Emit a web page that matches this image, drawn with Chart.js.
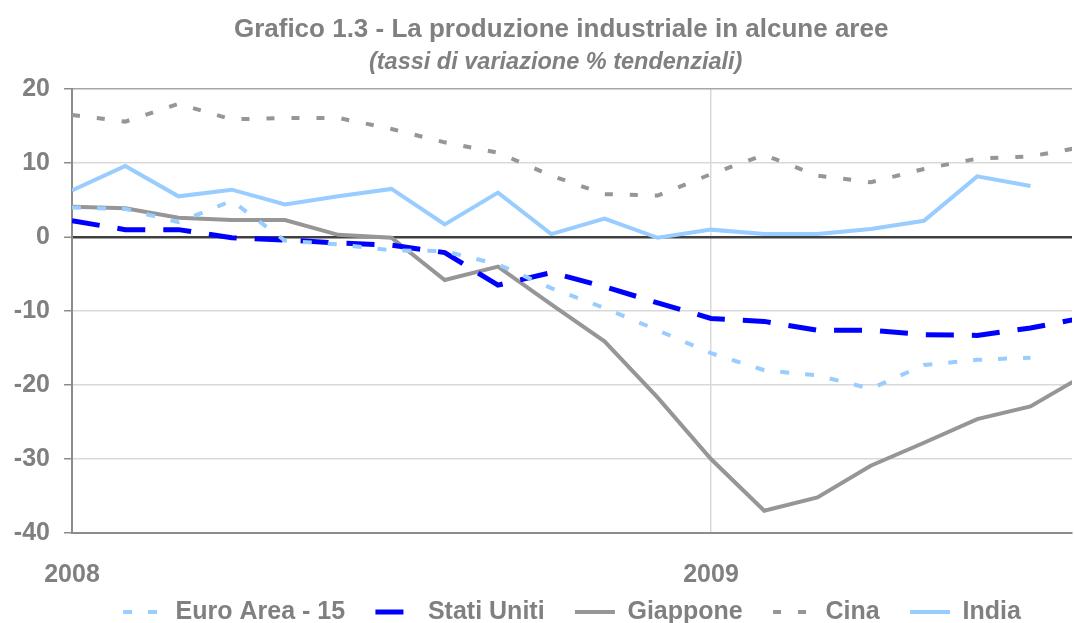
<!DOCTYPE html>
<html>
<head>
<meta charset="utf-8">
<script src="https://cdn.jsdelivr.net/npm/chart.js@4.4.1/dist/chart.umd.min.js"></script>
<style>
  html, body { margin: 0; padding: 0; background: #ffffff; }
  #wrap { width: 1074px; height: 623px; position: relative; }
</style>
</head>
<body>
<div id="wrap"><canvas id="chart"></canvas></div>
<script>
// month index from gen 2008 (0) to ago 2009 (19)
const months = [0, 1, 2, 3, 4, 5, 6, 7, 8, 9, 10, 11, 12, 13, 14, 15, 16, 17, 18, 19];
const year_ticks = [0, 12];
const year_labels = ["2008", "2009"];

const euro_area = [4.0, 3.8, 2.0, 4.9, -0.5, -1.0, -1.8, -1.9, -3.7, -6.9, -9.6, -12.6, -15.7, -18.0, -18.7, -20.5, -17.3, -16.6, -16.3, null];
const stati_uniti = [2.2, 1.0, 1.0, -0.1, -0.4, -0.8, -1.1, -2.1, -6.5, -4.8, -6.7, -8.9, -11.0, -11.4, -12.6, -12.6, -13.2, -13.3, -12.3, -10.9];
const giappone = [4.1, 3.9, 2.6, 2.3, 2.3, 0.3, -0.1, -5.8, -4.0, -9.1, -14.1, -21.7, -30.0, -37.0, -35.2, -30.9, -27.8, -24.6, -22.9, -18.7];
const cina = [16.5, 15.6, 18.0, 15.9, 16.1, 16.1, 14.6, 12.8, 11.4, 8.3, 5.8, 5.6, 8.5, 11.1, 8.3, 7.4, 9.2, 10.6, 10.9, 12.2];
const india = [6.3, 9.6, 5.5, 6.4, 4.4, 5.5, 6.5, 1.7, 6.0, 0.4, 2.5, -0.1, 1.0, 0.4, 0.4, 1.1, 2.2, 8.2, 6.9, null];

const font_family = 'Arial, "Liberation Sans", sans-serif';
const text_grey = "#808080";

function points(values) {
	return months.map((m, i) => ({x: m, y: values[i]}));
}

function line_ds(label, values, color, width, dash) {
	return {
		label: label,
		data: points(values),
		borderColor: color,
		backgroundColor: color,
		borderWidth: width,
		borderDash: dash,
		borderCapStyle: "butt",
		pointRadius: 0,
		tension: 0
	};
}

const ctx = document.getElementById("chart");
const chart = new Chart(ctx, {
	type: "line",
	data: {
		datasets: [
			line_ds("Euro Area - 15", euro_area, "#99ccff", 4, [9, 16]),
			line_ds("Stati Uniti", stati_uniti, "#0000ff", 5, [28, 18]),
			line_ds("Giappone", giappone, "#969696", 4, []),
			line_ds("Cina", cina, "#969696", 4, [8, 17]),
			line_ds("India", india, "#99ccff", 4, [])
		]
	},
	options: {
		responsive: true,
		maintainAspectRatio: false,
		animation: false,
		layout: {
			padding: {top: 0, right: 2, bottom: -11.5, left: 0}
		},
		scales: {
			x: {
				type: "linear",
				min: 0,
				max: 18.78,
				afterBuildTicks: (scale) => {
					scale.ticks = year_ticks.map(v => ({value: v}));
				},
				afterFit: (scale) => { scale.height = 57; },
				ticks: {
					color: text_grey,
					font: {family: font_family, size: 25, weight: "bold"},
					padding: 27,
					maxRotation: 0,
					autoSkip: false,
					callback: (value) => year_labels[year_ticks.indexOf(value)]
				},
				grid: {
					drawTicks: false,
					color: (c) => (c.tick && c.tick.value === 12) ? "#d9d9d9" : "rgba(0,0,0,0)",
					lineWidth: 1.5
				},
				border: {display: true, color: "#8c8c8c", width: 2}
			},
			y: {
				min: -40,
				max: 20,
				afterFit: (scale) => { scale.width = 72; },
				ticks: {
					stepSize: 10,
					color: text_grey,
					font: {family: font_family, size: 25, weight: "bold"},
					padding: 14
				},
				grid: {
					drawTicks: true,
					tickLength: 8,
					tickColor: "#8c8c8c",
					tickWidth: 1.5,
					color: (c) => {
						if (c.tick.value === 0) return "#404040";
						if (c.tick.value === 20) return "#a6a6a6";
						return "#d9d9d9";
					},
					lineWidth: (c) => c.tick.value === 0 ? 2.5 : 1.5
				},
				border: {display: true, color: "#8c8c8c", width: 2}
			}
		},
		plugins: {
			title: {
				display: true,
				fullSize: false,
				text: "Grafico 1.3 - La produzione industriale in alcune aree   ",
				color: text_grey,
				font: {family: font_family, size: 26, weight: "bold", lineHeight: 1.2},
				padding: {top: 14, bottom: 0}
			},
			subtitle: {
				display: true,
				fullSize: false,
				text: "(tassi di variazione % tendenziali)     ",
				color: text_grey,
				font: {family: font_family, size: 23.5, weight: "bold", style: "italic", lineHeight: 1.1},
				padding: {top: 4, bottom: 14}
			},
			legend: {
				position: "bottom",
				fullSize: false,
				labels: {
					color: text_grey,
					font: {family: font_family, size: 25, weight: "bold"},
					usePointStyle: true,
					pointStyle: "line",
					pointStyleWidth: 40,
					boxWidth: 40,
					padding: 9.5,
					// trailing spaces widen the gap between entries without moving the row
					generateLabels: (c) => c.data.datasets.map((ds, i) => ({
						text: ds.label + (i < c.data.datasets.length - 1 ? "   " : ""),
						datasetIndex: i,
						fillStyle: ds.borderColor,
						strokeStyle: ds.borderColor,
						lineWidth: ds.borderWidth,
						lineDash: ds.borderDash,
						lineCap: "butt",
						pointStyle: "line",
						fontColor: text_grey,
						hidden: false
					}))
				}
			},
			tooltip: {enabled: false}
		}
	}
});
</script>
</body>
</html>
